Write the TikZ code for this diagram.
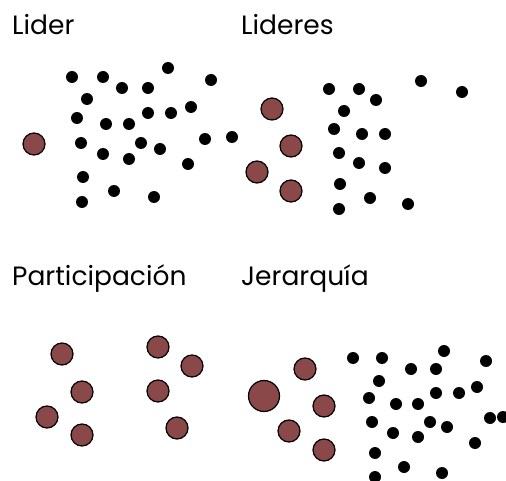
\documentclass[tikz,border=0pt]{standalone}
\usepackage{fontspec}
\setmainfont{Poppins}
\usepackage{xcolor}
\usepackage{tikz}
\usetikzlibrary{positioning}

\definecolor{leadred}{RGB}{138,72,72}

\begin{document}
\begin{tikzpicture}[
  x=1pt, y=-1pt,
  title/.style={anchor=base west, inner sep=0pt, font=\fontsize{26.5}{30}\selectfont},
  dot/.style={circle, fill=black, inner sep=0pt, minimum size=12pt},
  leader/.style={circle, draw=black, line width=1.2pt, fill=leadred, inner sep=0pt, minimum size=22pt},
  bigleader/.style={leader, minimum size=31pt},
]
  \useasboundingbox[fill=white] (0,0) rectangle (506,481);

  % Titles
  \node[title] (t-lider) at (12,35) {Lider};
  \node[title] (t-lideres) at (241,35) {Lideres};
  \node[title] (t-part) at (12,285) {Participación};
  \node[title] (t-jer) at (241,285) {Jerarquía};

  % Lider
  \node[leader] (lider-l1) at (34,144) {};
  \foreach \p [count=\i] in {(72,77),(103,77),(168,68),(211,80),(122,88),(148,88),
      (87,99),(77,118),(106,124),(129,124),(148,113),(171,113),(191,107),
      (81,143),(141,143),(160,149),(103,154),(129,159),(205,139),(232,137),
      (188,164),(83,177),(114,191),(154,197),(82,202)}
    \node[dot] (lider-d\i) at \p {};

  % Lideres
  \foreach \p [count=\i] in {(272,109),(291,146),(257,172),(291,191)}
    \node[leader] (lideres-l\i) at \p {};
  \foreach \p [count=\i] in {(329,89),(359,89),(421,81),(462,92),(376,100),
      (344,111),(334,129),(362,134),(385,134),(339,153),(359,163),(385,168),
      (340,184),(370,198),(408,204),(339,209)}
    \node[dot] (lideres-d\i) at \p {};

  % Participacion
  \foreach \p [count=\i] in {(62,354),(82,392),(47,417),(82,435),
      (158,347),(192,366),(158,391),(177,428)}
    \node[leader] (part-l\i) at \p {};

  % Jerarquia
  \node[bigleader] (jer-top) at (264,396) {};
  \foreach \p [count=\i] in {(305,369),(324,406),(289,431),(324,450)}
    \node[leader] (jer-l\i) at \p {};
  \foreach \p [count=\i] in {(353,358),(382,358),(444,351),(486,361),(411,369),
      (436,369),(379,381),(369,398),(396,404),(418,404),(436,393),(459,393),
      (477,387),(372,422),(430,422),(447,427),(393,433),(418,437),(490,418),
      (503,417),(475,443),(375,453),(404,467),(442,473),(375,477)}
    \node[dot] (jer-d\i) at \p {};
\end{tikzpicture}
\end{document}
